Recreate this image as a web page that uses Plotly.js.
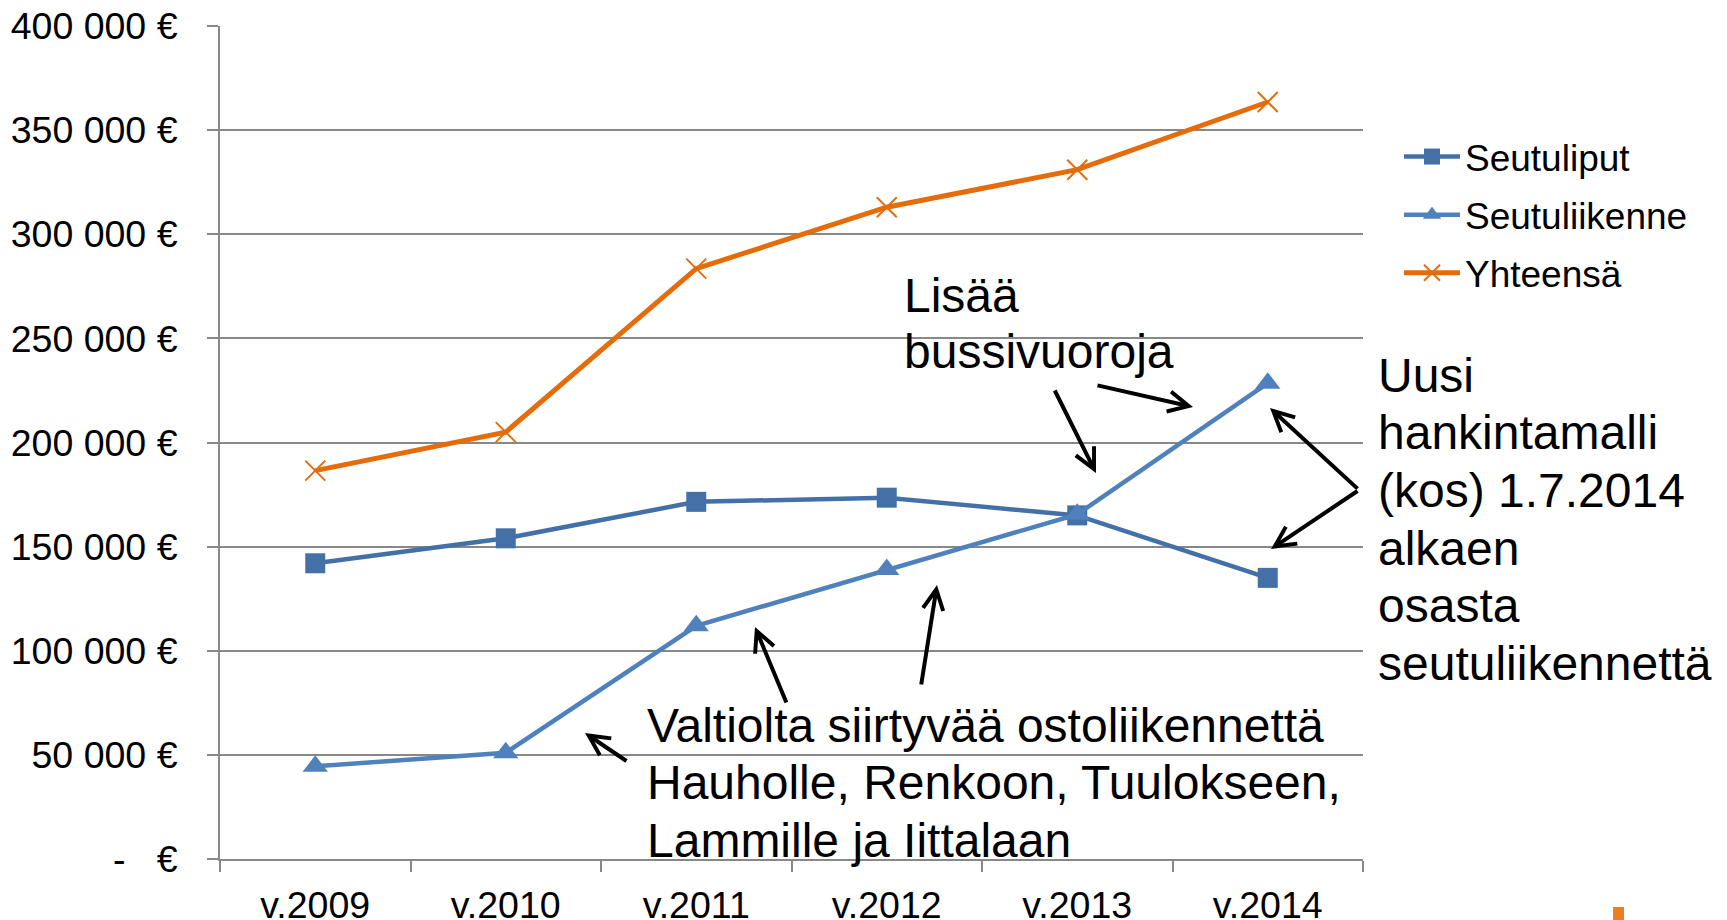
<!DOCTYPE html>
<html>
<head>
<meta charset="utf-8">
<script src="https://cdn.plot.ly/plotly-3.0.1.min.js"></script>
<style>
  html, body { margin: 0; padding: 0; background: #ffffff; }
  #chart { width: 1727px; height: 920px; }
</style>
</head>
<body>
<div id="chart"></div>
<script>
// ---- data ----
const categories = ['v.2009', 'v.2010', 'v.2011', 'v.2012', 'v.2013', 'v.2014'];
const seriesNames = ['Seutuliput', 'Seutuliikenne', 'Yhteensä'];
const seutuliput = [142000, 154000, 171500, 173500, 165000, 135000];
const seutuliikenne = [44500, 51000, 112000, 139000, 165500, 228500];
const yhteensa = [186500, 205000, 283500, 313000, 331000, 363500];
const yTickVals = [0, 50000, 100000, 150000, 200000, 250000, 300000, 350000, 400000];
const yTickText = ['-\u00a0\u00a0\u00a0€', '50 000 €', '100 000 €', '150 000 €', '200 000 €',
                   '250 000 €', '300 000 €', '350 000 €', '400 000 €'];
const noteLisaa = ['Lisää', 'bussivuoroja'];
const noteUusi = ['Uusi', 'hankintamalli', '(kos) 1.7.2014', 'alkaen', 'osasta', 'seutuliikennettä'];
const noteValtio = ['Valtiolta siirtyvää ostoliikennettä', 'Hauholle, Renkoon, Tuulokseen,', 'Lammille ja Iittalaan'];

// ---- layout geometry (pixels) ----
const W = 1727, H = 920;
const ML = 220, MR = 364, MT = 26, MB = 61;
const PL = ML, PR = W - MR, PT = MT, PB = H - MB;
function px(x) { return (x - PL) / (PR - PL); }
function py(y) { return (PB - y) / (PB - PT); }

const FONT = 'Arial, "Liberation Sans", sans-serif';
const GRID = '#888888';
const C1 = '#4470A8', C2 = '#4F81BD', C3 = '#E46C0A';
const TICKSIZE = 37.5;

const traces = [
  { x: categories, y: seutuliput, name: seriesNames[0], type: 'scatter', mode: 'lines+markers',
    legendgroup: 'a', line: { color: C1, width: 4.5 },
    marker: { symbol: 'square', size: 20, color: C1 } },
  { x: categories, y: seutuliikenne, name: seriesNames[1], type: 'scatter', mode: 'lines+markers',
    legendgroup: 'b', line: { color: C2, width: 4.5 },
    marker: { symbol: 'triangle-up', size: 22, color: C2 } },
  { x: categories, y: yhteensa, name: seriesNames[2], type: 'scatter', mode: 'lines+markers',
    legendgroup: 'c', line: { color: C3, width: 5 },
    marker: { symbol: 'x-thin', size: 20, color: C3, line: { color: C3, width: 2 } } }
];

const annotations = [];
const TF = 48;
function addLines(lines, leftPx, firstBaseline, step) {
  lines.forEach(function (t, i) {
    const base = firstBaseline + i * step;
    annotations.push({
      xref: 'paper', yref: 'paper', x: px(leftPx), y: py(base - 0.3465 * TF),
      xanchor: 'left', yanchor: 'middle', text: t, showarrow: false,
      font: { family: FONT, size: TF, color: '#000000' }, align: 'left'
    });
  });
}
addLines(noteLisaa, 902, 311.7, 56.6);
addLines(noteUusi, 1376, 391.7, 57.7);
addLines(noteValtio, 645, 741.7, 57.5);

const arrows = [
  [1096, 473, 1054, 389],
  [1193, 407, 1096, 385],
  [1270, 408, 1359, 490],
  [1271, 549, 1359, 490],
  [585, 733, 628, 762],
  [755, 627, 787, 704],
  [937, 585, 921, 686]
];
arrows.forEach(function (a) {
  annotations.push({
    xref: 'paper', yref: 'paper', x: px(a[0]), y: py(a[1]),
    axref: 'pixel', ayref: 'pixel', ax: a[2] - a[0], ay: a[3] - a[1],
    text: '', showarrow: true, arrowhead: 5, arrowsize: 1.0, arrowwidth: 4,
    arrowcolor: '#000000', standoff: 0, startstandoff: 0, font: { size: 1 }
  });
});

const layout = {
  width: W, height: H,
  margin: { l: ML, r: MR, t: MT, b: MB, pad: 0 },
  paper_bgcolor: '#ffffff', plot_bgcolor: '#ffffff',
  font: { family: FONT, size: 36, color: '#000000' },
  showlegend: true,
  legend: {
    x: px(1399), xanchor: 'left', y: py(126), yanchor: 'top',
    font: { family: FONT, size: 37, color: '#000000' },
    bgcolor: 'rgba(0,0,0,0)', borderwidth: 0, tracegroupgap: 7, traceorder: 'grouped',
    itemwidth: 56
  },
  xaxis: {
    type: 'category', range: [-0.5, 5.5], fixedrange: true,
    showline: true, linecolor: GRID, linewidth: 2,
    ticks: 'outside', ticklen: 11, tickwidth: 2, tickcolor: GRID, tickson: 'boundaries',
    showgrid: false, zeroline: false,
    tickfont: { family: FONT, size: TICKSIZE, color: '#000000' },
    ticklabelstandoff: 12
  },
  yaxis: {
    range: [0, 400000], fixedrange: true,
    tickvals: yTickVals, ticktext: yTickText,
    showline: true, linecolor: GRID, linewidth: 2,
    ticks: 'outside', ticklen: 11, tickwidth: 2, tickcolor: GRID,
    showgrid: true, gridcolor: GRID, gridwidth: 2, zeroline: false,
    tickfont: { family: FONT, size: TICKSIZE, color: '#000000' },
    ticklabelstandoff: 22
  },
  annotations: annotations,
  shapes: [
    { type: 'rect', xref: 'paper', yref: 'paper', x0: px(1613), x1: px(1624), y0: py(907), y1: py(925),
      fillcolor: '#EE7D22', line: { width: 0 } }
  ]
};

Plotly.newPlot('chart', traces, layout, { displayModeBar: false, staticPlot: true });
</script>
</body>
</html>
